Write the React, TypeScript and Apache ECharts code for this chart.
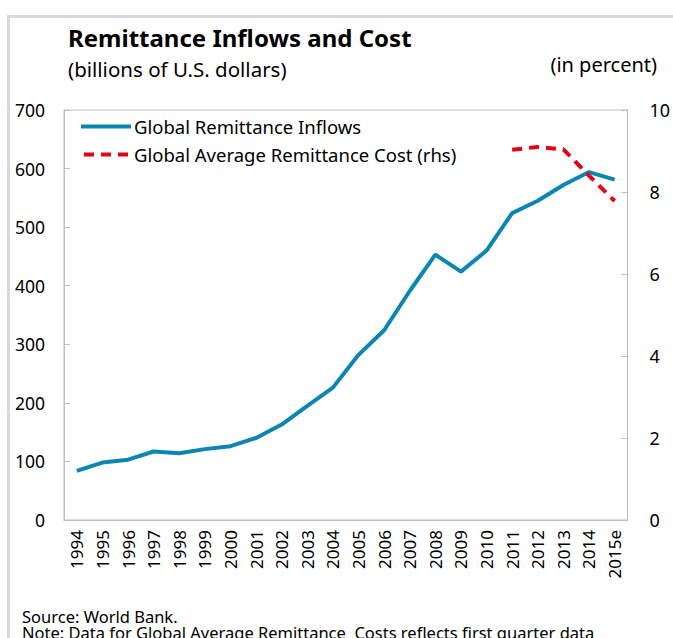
import React, { useEffect, useRef } from "react";
import * as echarts from "echarts";

const years = ["1994","1995","1996","1997","1998","1999","2000","2001","2002","2003","2004","2005","2006","2007","2008","2009","2010","2011","2012","2013","2014","2015e"];
const inflows = [84, 98, 103, 117, 114, 121, 126, 140, 163, 195, 226, 282, 324, 391, 453, 424, 460, 524, 545, 572, 594, 581];
const cost = [null, null, null, null, null, null, null, null, null, null, null, null, null, null, null, null, null, 9.03, 9.1, 9.04, 8.4, 7.78];
const leftTicks = [0, 100, 200, 300, 400, 500, 600, 700];
const rightTicks = [0, 2, 4, 6, 8, 10];

const FONT = "Noto Sans";

export default function App() {
  const ref = useRef<HTMLDivElement>(null);
  useEffect(() => {
    document.body.style.margin = "0";
    const chart = echarts.init(ref.current!, null, { renderer: "svg" });
    const axisColor = "#bfbfbf";
    chart.setOption({
      animation: false,
      textStyle: { fontFamily: FONT },
      grid: { left: 64, right: 40, top: 110, bottom: 118, show: true, borderColor: axisColor, borderWidth: 1 },
      legend: {
        left: 76, top: 112, orient: "vertical", itemWidth: 50, itemHeight: 4, itemGap: 9,
        textStyle: { fontFamily: FONT, fontSize: 18.5, color: "#000", padding: [0, 0, 0, -2] },
        data: [
          { name: "Global Remittance Inflows", icon: "path://M0,0H50V4H0Z" },
          { name: "Global Average Remittance Cost (rhs)", icon: "path://M0,0H10V4H0ZM17,0H27V4H17ZM34,0H44V4H34Z" },
        ],
      },
      xAxis: {
        type: "category", data: years, boundaryGap: true,
        axisLine: { lineStyle: { color: axisColor } },
        axisTick: { inside: true, length: 6, interval: 0, lineStyle: { color: axisColor } },
        axisLabel: { rotate: 90, interval: 0, fontSize: 17, color: "#000", fontFamily: FONT, margin: 10 },
      },
      yAxis: [
        {
          type: "value", min: leftTicks[0], max: leftTicks[leftTicks.length - 1], interval: 100,
          splitLine: { show: false },
          axisLine: { show: true, lineStyle: { color: axisColor } },
          axisTick: { show: true, inside: true, length: 6, lineStyle: { color: axisColor } },
          axisLabel: { fontSize: 17.5, color: "#000", fontFamily: FONT, margin: 19 },
        },
        {
          type: "value", min: rightTicks[0], max: rightTicks[rightTicks.length - 1], interval: 2,
          splitLine: { show: false },
          axisLine: { show: true, lineStyle: { color: axisColor } },
          axisTick: { show: true, inside: true, length: 6, lineStyle: { color: axisColor } },
          axisLabel: { fontSize: 18, color: "#000", fontFamily: FONT, margin: 22 },
        },
      ],
      series: [
        {
          name: "Global Remittance Inflows", type: "line", data: inflows, yAxisIndex: 0,
          symbol: "none", lineStyle: { color: "#0b86b2", width: 4 }, itemStyle: { color: "#0b86b2" },
        },
        {
          name: "Global Average Remittance Cost (rhs)", type: "line", data: cost, yAxisIndex: 1,
          symbol: "none", lineStyle: { color: "#e60012", width: 4, type: [10, 7] }, itemStyle: { color: "#e60012" },
        },
      ],
      graphic: [
        { type: "line", shape: { x1: 8, y1: 16.5, x2: 673, y2: 16.5 }, style: { stroke: "#d9d9d9", lineWidth: 3 } },
        { type: "line", shape: { x1: 8.5, y1: 15, x2: 8.5, y2: 638 }, style: { stroke: "#d9d9d9", lineWidth: 3 } },
        { type: "text", left: 68, top: 25, style: { text: "Remittance Inflows and Cost", font: `bold 24px '${FONT}'`, fill: "#000" } },
        { type: "text", left: 68, top: 58, style: { text: "(billions of U.S. dollars)", font: `20.5px '${FONT}'`, fill: "#000" } },
        { type: "text", right: 16, top: 54, style: { text: "(in percent)", font: `20px '${FONT}'`, fill: "#000" } },
        { type: "text", x: 22, y: 608, style: { text: "Source: World Bank.", font: `16.5px '${FONT}'`, fill: "#000" } },
        { type: "text", x: 22, y: 624, style: { text: "Note: Data for Global Average Remittance  Costs reflects first quarter data", font: `16.5px '${FONT}'`, fill: "#000" } },
      ],
    });
    return () => chart.dispose();
  }, []);
  return <div ref={ref} style={{ width: 673, height: 638 }} />;
}
